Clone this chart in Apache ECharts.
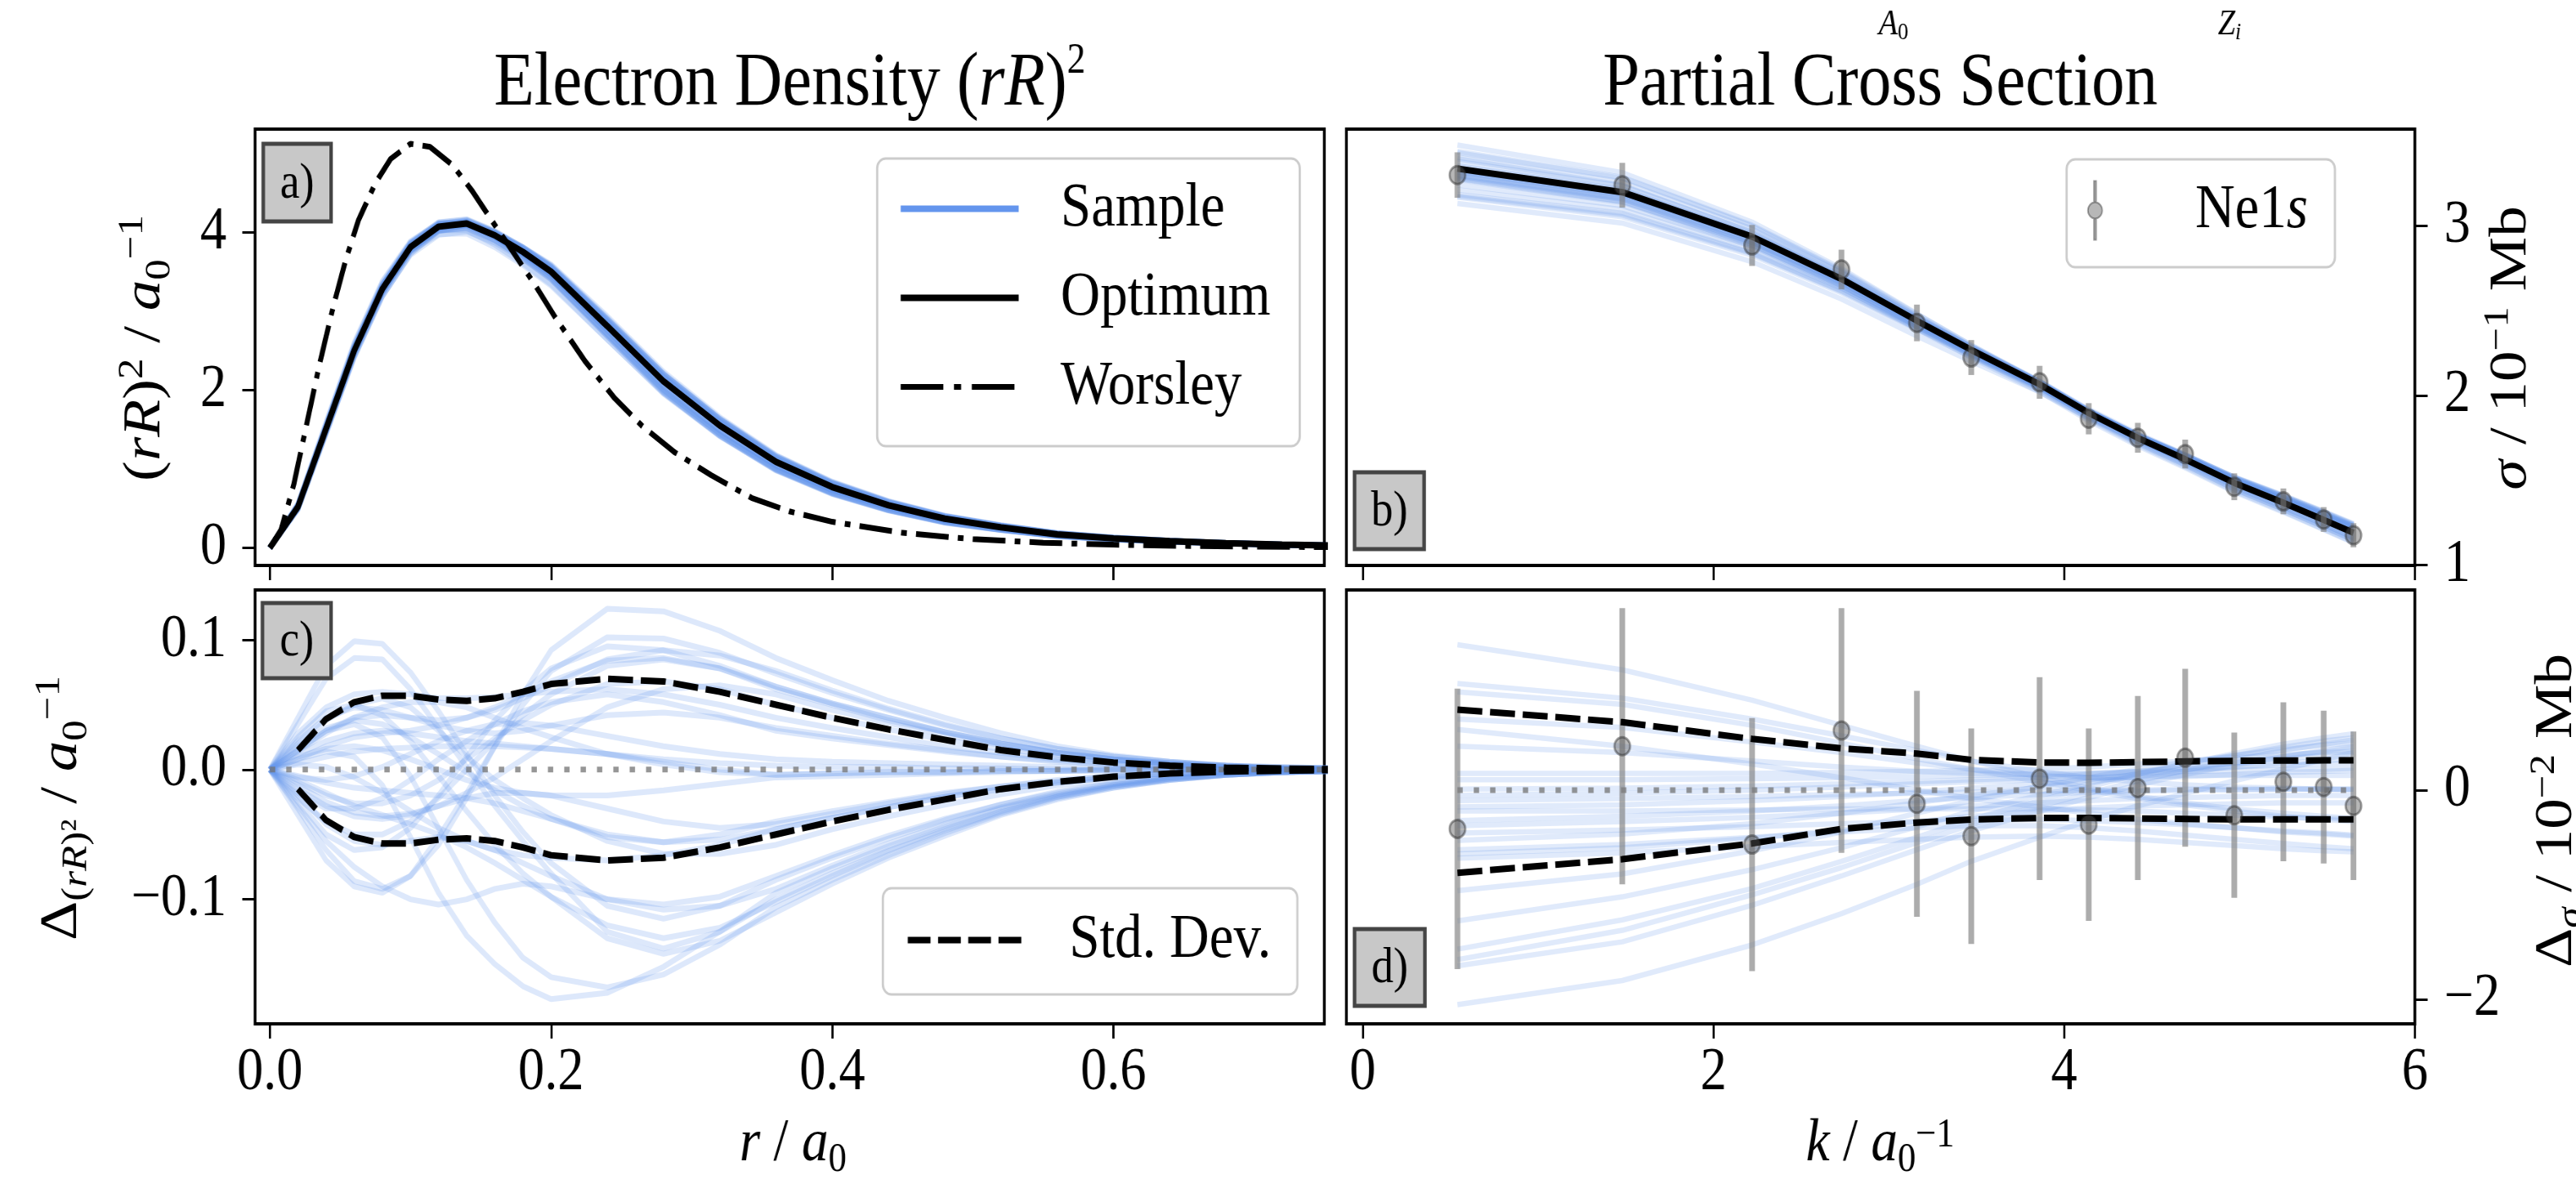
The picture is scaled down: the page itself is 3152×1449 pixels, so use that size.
<!DOCTYPE html>
<html>
<head>
<meta charset="utf-8">
<title>Electron Density and Partial Cross Section</title>
<script src="https://cdn.jsdelivr.net/npm/echarts@6/dist/echarts.min.js"></script>
<style>
html, body { margin:0; padding:0; background:#fff; overflow:hidden; }
#wrap { width:3152px; height:1449px; overflow:hidden; position:relative; }
#chart { height:1449px; transform-origin:0 0; }
</style>
</head>
<body>
<div id="wrap"><div id="chart"></div></div>
<script>
// ------------------------- DATA -------------------------
// radial grid (r / a0) for panels a) and c)
const rGrid = [0, 0.02, 0.04, 0.06, 0.08, 0.10, 0.12, 0.14, 0.16, 0.18, 0.20, 0.24, 0.28, 0.32, 0.36, 0.40, 0.44, 0.48, 0.52, 0.56, 0.60, 0.64, 0.68, 0.72, 0.76];
// optimum electron density (rR)^2
const densityOptimum = [0, 0.52, 1.51, 2.50, 3.28, 3.81, 4.07, 4.11, 3.96, 3.75, 3.50, 2.81, 2.11, 1.55, 1.09, 0.77, 0.54, 0.37, 0.26, 0.17, 0.12, 0.085, 0.06, 0.04, 0.028];
// Worsley reference density
const worsleyR = [0, 0.008, 0.017, 0.026, 0.035, 0.045, 0.054, 0.063, 0.075, 0.086, 0.100, 0.114, 0.130, 0.144, 0.157, 0.173, 0.189, 0.203, 0.224, 0.245, 0.265, 0.288, 0.314, 0.343, 0.370, 0.400, 0.450, 0.500, 0.550, 0.600, 0.650, 0.700, 0.760];
const worsleyValue = [0, 0.23, 0.80, 1.55, 2.30, 3.05, 3.65, 4.15, 4.62, 4.93, 5.12, 5.08, 4.85, 4.52, 4.17, 3.75, 3.32, 2.92, 2.37, 1.90, 1.54, 1.21, 0.92, 0.63, 0.46, 0.33, 0.19, 0.11, 0.065, 0.04, 0.025, 0.015, 0.008];
// standard deviation of density samples (panel c)
const densityStdUpper = [null, 0.015, 0.039, 0.052, 0.057, 0.057, 0.054, 0.053, 0.055, 0.060, 0.066, 0.070, 0.068, 0.060, 0.050, 0.040, 0.031, 0.023, 0.015, 0.0095, 0.0055, 0.003, 0.0015, 0.0008, 0.0003];
const densityStdLower = [null, -0.015, -0.039, -0.052, -0.057, -0.057, -0.054, -0.053, -0.055, -0.060, -0.066, -0.070, -0.068, -0.060, -0.050, -0.040, -0.031, -0.023, -0.015, -0.0095, -0.0055, -0.003, -0.0015, -0.0008, -0.0003];
// sample deviations from optimum density (panel c), one row per sample
const densityDeviations = [
  [0, 0.040, 0.080, 0.099, 0.097, 0.075, 0.045, 0.012, -0.020, -0.048, -0.072, -0.105, -0.115, -0.105, -0.085, -0.068, -0.053, -0.039, -0.027, -0.018, -0.011, -0.006, -0.003, -0.002, -0.001],
  [0, 0.035, 0.070, 0.086, 0.085, 0.062, 0.032, 0.002, -0.028, -0.055, -0.080, -0.125, -0.138, -0.125, -0.100, -0.080, -0.062, -0.046, -0.032, -0.021, -0.013, -0.007, -0.004, -0.002, -0.001],
  [0, 0.008, 0.014, 0.010, -0.012, -0.052, -0.095, -0.128, -0.150, -0.167, -0.177, -0.172, -0.152, -0.125, -0.095, -0.076, -0.059, -0.044, -0.030, -0.020, -0.012, -0.007, -0.004, -0.002, -0.001],
  [0, -0.030, -0.062, -0.086, -0.092, -0.082, -0.058, -0.022, 0.018, 0.058, 0.092, 0.124, 0.122, 0.107, 0.086, 0.069, 0.053, 0.040, 0.028, 0.018, 0.011, 0.006, 0.003, 0.002, 0.001],
  [0, -0.035, -0.070, -0.090, -0.095, -0.082, -0.052, -0.018, 0.018, 0.050, 0.076, 0.102, 0.101, 0.090, 0.074, 0.059, 0.046, 0.034, 0.024, 0.016, 0.010, 0.006, 0.003, 0.001, 0.001],
  [0, 0.028, 0.048, 0.058, 0.060, 0.058, 0.055, 0.055, 0.056, 0.058, 0.060, 0.062, 0.058, 0.050, 0.040, 0.032, 0.025, 0.018, 0.013, 0.008, 0.005, 0.003, 0.002, 0.001, 0],
  [0, 0.020, 0.038, 0.050, 0.055, 0.048, 0.030, 0.010, -0.008, -0.022, -0.035, -0.055, -0.065, -0.065, -0.058, -0.046, -0.036, -0.027, -0.019, -0.012, -0.008, -0.004, -0.002, -0.001, 0],
  [0, 0.015, 0.030, 0.040, 0.042, 0.040, 0.038, 0.040, 0.046, 0.055, 0.065, 0.085, 0.092, 0.088, 0.076, 0.061, 0.047, 0.035, 0.024, 0.016, 0.010, 0.006, 0.003, 0.002, 0.001],
  [0, 0.012, 0.022, 0.028, 0.030, 0.028, 0.025, 0.022, 0.020, 0.018, 0.016, 0.012, 0.008, 0.005, 0.003, 0.002, 0.002, 0.001, 0.001, 0, 0, 0, 0, 0, 0],
  [0, -0.012, -0.025, -0.033, -0.036, -0.034, -0.028, -0.018, -0.006, 0.008, 0.022, 0.048, 0.062, 0.065, 0.058, 0.046, 0.036, 0.027, 0.019, 0.012, 0.008, 0.004, 0.002, 0.001, 0],
  [0, -0.020, -0.042, -0.055, -0.058, -0.055, -0.052, -0.055, -0.062, -0.072, -0.082, -0.100, -0.108, -0.105, -0.092, -0.074, -0.057, -0.042, -0.029, -0.019, -0.012, -0.007, -0.004, -0.002, -0.001],
  [0, -0.025, -0.050, -0.062, -0.060, -0.045, -0.020, 0.010, 0.038, 0.060, 0.078, 0.095, 0.092, 0.080, 0.064, 0.051, 0.040, 0.029, 0.020, 0.013, 0.008, 0.005, 0.003, 0.001, 0.001],
  [0, 0.005, 0.010, 0.014, 0.016, 0.017, 0.018, 0.018, 0.018, 0.017, 0.016, 0.012, 0.006, 0, -0.004, -0.003, -0.002, -0.002, -0.001, -0.001, 0, 0, 0, 0, 0],
  [0, -0.005, -0.010, -0.014, -0.016, -0.018, -0.020, -0.022, -0.026, -0.032, -0.038, -0.050, -0.056, -0.054, -0.046, -0.037, -0.029, -0.021, -0.015, -0.010, -0.006, -0.003, -0.002, -0.001, 0],
  [0, 0.018, 0.032, 0.038, 0.035, 0.025, 0.012, -0.002, -0.016, -0.028, -0.038, -0.052, -0.056, -0.050, -0.040, -0.032, -0.025, -0.018, -0.013, -0.008, -0.005, -0.003, -0.002, -0.001, 0],
  [0, -0.015, -0.028, -0.036, -0.038, -0.035, -0.028, -0.022, -0.018, -0.018, -0.020, -0.030, -0.040, -0.045, -0.042, -0.034, -0.026, -0.019, -0.013, -0.009, -0.005, -0.003, -0.002, -0.001, 0],
  [0, 0.008, 0.018, 0.025, 0.028, 0.030, 0.034, 0.040, 0.048, 0.058, 0.068, 0.084, 0.086, 0.078, 0.064, 0.051, 0.040, 0.029, 0.020, 0.013, 0.008, 0.005, 0.003, 0.001, 0.001],
  [0, -0.008, -0.018, -0.028, -0.035, -0.042, -0.050, -0.060, -0.072, -0.085, -0.098, -0.120, -0.130, -0.122, -0.102, -0.082, -0.063, -0.047, -0.033, -0.021, -0.013, -0.008, -0.004, -0.002, -0.001],
  [0, 0.025, 0.045, 0.050, 0.042, 0.022, -0.005, -0.032, -0.058, -0.080, -0.098, -0.130, -0.142, -0.132, -0.110, -0.088, -0.068, -0.051, -0.035, -0.023, -0.014, -0.008, -0.004, -0.002, -0.001],
  [0, -0.018, -0.030, -0.030, -0.022, -0.008, 0.008, 0.022, 0.035, 0.045, 0.052, 0.058, 0.052, 0.042, 0.030, 0.024, 0.019, 0.014, 0.010, 0.006, 0.004, 0.002, 0.001, 0.001, 0],
  [0, 0.010, 0.016, 0.018, 0.015, 0.008, 0, -0.008, -0.014, -0.018, -0.020, -0.020, -0.016, -0.011, -0.006, -0.005, -0.004, -0.003, -0.002, -0.001, -0.001, 0, 0, 0, 0],
  [0, -0.022, -0.040, -0.050, -0.050, -0.040, -0.022, 0, 0.022, 0.042, 0.058, 0.080, 0.085, 0.078, 0.062, 0.050, 0.038, 0.029, 0.020, 0.013, 0.008, 0.005, 0.002, 0.001, 0.001],
  [0, -0.006, -0.008, -0.005, 0.002, 0.012, 0.022, 0.030, 0.035, 0.036, 0.034, 0.026, 0.018, 0.012, 0.008, 0.006, 0.005, 0.004, 0.003, 0.002, 0.001, 0.001, 0, 0, 0],
  [0, 0.022, 0.040, 0.048, 0.046, 0.040, 0.034, 0.030, 0.028, 0.030, 0.034, 0.042, 0.044, 0.040, 0.032, 0.026, 0.020, 0.015, 0.010, 0.007, 0.004, 0.002, 0.001, 0.001, 0],
  [0, -0.028, -0.055, -0.075, -0.090, -0.100, -0.104, -0.100, -0.092, -0.088, -0.090, -0.100, -0.104, -0.098, -0.082, -0.066, -0.051, -0.038, -0.027, -0.017, -0.011, -0.006, -0.003, -0.002, -0.001],
  [0, 0.004, 0.002, -0.006, -0.018, -0.032, -0.045, -0.055, -0.062, -0.066, -0.068, -0.070, -0.066, -0.058, -0.046, -0.037, -0.029, -0.021, -0.015, -0.010, -0.006, -0.003, -0.002, -0.001, 0],
  [0, 0.014, 0.028, 0.040, 0.048, 0.052, 0.052, 0.048, 0.040, 0.032, 0.025, 0.012, 0.004, -0.002, -0.004, -0.003, -0.002, -0.002, -0.001, -0.001, 0, 0, 0, 0, 0],
  [0, -0.010, -0.020, -0.026, -0.026, -0.020, -0.008, 0.008, 0.024, 0.038, 0.050, 0.066, 0.068, 0.062, 0.050, 0.040, 0.031, 0.023, 0.016, 0.011, 0.007, 0.004, 0.002, 0.001, 0.001],
  [0, 0.015, 0.030, 0.035, 0.025, -0.005, -0.045, -0.085, -0.118, -0.145, -0.160, -0.168, -0.158, -0.135, -0.106, -0.085, -0.066, -0.049, -0.034, -0.022, -0.014, -0.008, -0.004, -0.002, -0.001]
];

// photo-electron momentum k / a0^-1 (panels b and d)
const kValues = [0.54, 1.48, 2.22, 2.73, 3.16, 3.47, 3.86, 4.14, 4.42, 4.69, 4.97, 5.25, 5.48, 5.65];
// Ne 1s partial cross section, 10^-1 Mb
const sigmaData = [3.300, 3.240, 2.885, 2.743, 2.428, 2.224, 2.078, 1.863, 1.751, 1.655, 1.462, 1.376, 1.269, 1.176];
const sigmaErr = [0.134, 0.132, 0.121, 0.117, 0.108, 0.103, 0.097, 0.092, 0.088, 0.085, 0.079, 0.076, 0.073, 0.071];
const sigmaOptimum = [3.338, 3.199, 2.937, 2.687, 2.441, 2.269, 2.066, 1.897, 1.750, 1.624, 1.485, 1.368, 1.267, 1.191];
// deviations from optimum, 10^-2 Mb
const sigmaDeltaData = [-0.37, 0.42, -0.52, 0.57, -0.13, -0.44, 0.11, -0.33, 0.02, 0.31, -0.24, 0.08, 0.03, -0.15];
const sigmaDeltaErr = [1.34, 1.32, 1.21, 1.17, 1.08, 1.03, 0.97, 0.92, 0.88, 0.85, 0.79, 0.76, 0.73, 0.71];
const sigmaStdUpper = [0.77, 0.65, 0.49, 0.40, 0.35, 0.29, 0.265, 0.262, 0.268, 0.275, 0.28, 0.283, 0.285, 0.285];
const sigmaStdLower = [-0.79, -0.66, -0.51, -0.37, -0.31, -0.28, -0.266, -0.266, -0.27, -0.275, -0.28, -0.28, -0.28, -0.28];
// sample deviations of the cross section (10^-2 Mb), one row per sample
const sigmaDeviations = [
  [1.39, 1.15, 0.86, 0.62, 0.42, 0.28, 0.12, 0.02, -0.06, -0.12, -0.18, -0.22, -0.25, -0.27],
  [1.02, 0.88, 0.68, 0.52, 0.38, 0.28, 0.18, 0.12, 0.08, 0.05, 0.03, 0.02, 0.01, 0.00],
  [0.94, 0.82, 0.62, 0.45, 0.30, 0.20, 0.08, 0.00, -0.08, -0.14, -0.20, -0.25, -0.28, -0.30],
  [0.68, 0.60, 0.46, 0.36, 0.26, 0.20, 0.14, 0.12, 0.12, 0.13, 0.15, 0.17, 0.18, 0.19],
  [0.58, 0.42, 0.25, 0.12, 0.00, -0.08, -0.16, -0.22, -0.28, -0.32, -0.36, -0.40, -0.42, -0.44],
  [0.42, 0.36, 0.28, 0.22, 0.18, 0.16, 0.15, 0.16, 0.18, 0.20, 0.22, 0.24, 0.25, 0.26],
  [0.16, 0.16, 0.16, 0.17, 0.18, 0.19, 0.20, 0.22, 0.25, 0.28, 0.31, 0.34, 0.36, 0.37],
  [0.10, 0.10, 0.11, 0.12, 0.13, 0.14, 0.15, 0.16, 0.17, 0.18, 0.19, 0.20, 0.20, 0.21],
  [0.01, 0.02, 0.04, 0.06, 0.08, 0.10, 0.12, 0.15, 0.18, 0.22, 0.26, 0.30, 0.33, 0.35],
  [-0.05, -0.03, 0.00, 0.03, 0.06, 0.08, 0.10, 0.12, 0.13, 0.14, 0.14, 0.14, 0.14, 0.14],
  [-0.10, -0.08, -0.06, -0.04, -0.03, -0.02, -0.01, 0.00, 0.00, 0.01, 0.01, 0.01, 0.01, 0.01],
  [-0.16, -0.14, -0.10, -0.06, -0.02, 0.02, 0.06, 0.10, 0.15, 0.20, 0.26, 0.32, 0.37, 0.40],
  [-0.20, -0.20, -0.19, -0.18, -0.18, -0.18, -0.18, -0.19, -0.20, -0.22, -0.24, -0.26, -0.27, -0.28],
  [-0.29, -0.25, -0.20, -0.15, -0.10, -0.07, -0.04, -0.02, -0.01, 0.00, 0.00, 0.01, 0.01, 0.01],
  [-0.34, -0.30, -0.26, -0.22, -0.18, -0.15, -0.12, -0.10, -0.08, -0.07, -0.06, -0.05, -0.05, -0.05],
  [-0.41, -0.38, -0.35, -0.32, -0.30, -0.29, -0.28, -0.29, -0.31, -0.33, -0.36, -0.39, -0.41, -0.43],
  [-0.48, -0.42, -0.32, -0.22, -0.12, -0.05, 0.03, 0.08, 0.13, 0.18, 0.22, 0.26, 0.28, 0.30],
  [-0.57, -0.52, -0.45, -0.40, -0.36, -0.34, -0.34, -0.36, -0.39, -0.43, -0.47, -0.51, -0.54, -0.56],
  [-0.61, -0.55, -0.46, -0.38, -0.30, -0.25, -0.20, -0.17, -0.15, -0.14, -0.13, -0.12, -0.12, -0.12],
  [-0.65, -0.60, -0.54, -0.50, -0.47, -0.45, -0.44, -0.45, -0.47, -0.50, -0.53, -0.56, -0.58, -0.59],
  [-0.96, -0.80, -0.58, -0.40, -0.22, -0.10, 0.04, 0.12, 0.20, 0.27, 0.33, 0.39, 0.43, 0.45],
  [-1.25, -1.02, -0.76, -0.55, -0.35, -0.20, -0.05, 0.06, 0.16, 0.25, 0.33, 0.41, 0.47, 0.50],
  [-1.52, -1.24, -0.94, -0.68, -0.45, -0.28, -0.10, 0.03, 0.15, 0.25, 0.35, 0.44, 0.50, 0.54],
  [-1.62, -1.34, -1.00, -0.74, -0.50, -0.33, -0.15, -0.03, 0.09, 0.19, 0.29, 0.38, 0.44, 0.48],
  [-1.68, -1.45, -1.10, -0.82, -0.57, -0.39, -0.20, -0.07, 0.05, 0.15, 0.24, 0.32, 0.38, 0.42],
  [-2.05, -1.82, -1.48, -1.18, -0.90, -0.68, -0.45, -0.29, -0.15, -0.03, 0.09, 0.20, 0.29, 0.36]
];

// tick values
const rTicks = [0, 0.2, 0.4, 0.6];
const kTicks = [0, 2, 4, 6];
const densityTicks = [0, 2, 4];
const sigmaTicks = [1, 2, 3];
const densityDeltaTicks = [-0.1, 0, 0.1];
const sigmaDeltaTicks = [-2, 0];

// ------------------------- LAYOUT / STYLE -------------------------
const SX = 0.87;                 // horizontal condensation of the whole figure
const px = x => x / SX;          // reference x -> pre-scale x
const W = 3152 / SX;
const el = document.getElementById('chart');
el.style.width = W + 'px';
el.style.transform = 'scaleX(' + SX + ')';

const F = "'Liberation Serif','Times New Roman',serif";
const BLUE = '#6495ED';
const TICK_FS = 74;
const minus = s => String(s).replace('-', '\u2212');

const GL1 = px(312), GR1 = px(1620), GL2 = px(1647), GR2 = px(2954);
const gridBase = { show: true, borderColor: '#000', borderWidth: 4, backgroundColor: 'rgba(0,0,0,0)', containLabel: false, outerBoundsMode: 'none' };
const grids = [
  Object.assign({ left: GL1, top: 158, width: GR1 - GL1, height: 534 }, gridBase),
  Object.assign({ left: GL2, top: 158, width: GR2 - GL2, height: 534 }, gridBase),
  Object.assign({ left: GL1, top: 722, width: GR1 - GL1, height: 531 }, gridBase),
  Object.assign({ left: GL2, top: 722, width: GR2 - GL2, height: 531 }, gridBase)
];

function axis(kind, gridIndex, min, max, ticks, showLabels, fmt, extra) {
  const a = {
    type: 'value', gridIndex, min, max,
    axisLine: { show: false, onZero: false },
    splitLine: { show: false },
    axisTick: { show: true, inside: false, length: 18, lineStyle: { color: '#000', width: 3 }, customValues: ticks },
    axisLabel: {
      show: showLabels, customValues: ticks, formatter: fmt,
      fontSize: TICK_FS, fontFamily: F, color: '#000',
      margin: kind === 'x' ? 24 : 40
    }
  };
  return Object.assign(a, extra || {});
}
const fmtR = v => v.toFixed(1);
const fmtInt = v => minus(String(Math.round(v)));
const fmtD = v => minus(v.toFixed(1));

const xAxes = [
  axis('x', 0, -0.0105, 0.75, rTicks, false, fmtR),
  axis('x', 1, -0.0932, 6, kTicks, false, fmtInt),
  axis('x', 2, -0.0105, 0.75, rTicks, true, fmtR),
  axis('x', 3, -0.0932, 6, kTicks, true, fmtInt)
];
const yAxes = [
  axis('y', 0, -0.223, 5.306, densityTicks, true, fmtInt, { position: 'left' }),
  axis('y', 1, 0.998, 3.571, sigmaTicks, true, fmtInt, { position: 'right' }),
  axis('y', 2, -0.196, 0.1385, densityDeltaTicks, true, fmtD, { position: 'left' }),
  axis('y', 3, -2.234, 1.914, sigmaDeltaTicks, true, fmtInt, { position: 'right' })
];
yAxes[1].axisLabel.margin = 41;
yAxes[3].axisLabel.margin = 41;

function line(idx, data, lineStyle, z, name) {
  const s = { type: 'line', xAxisIndex: idx, yAxisIndex: idx, data, showSymbol: false, symbol: 'none',
    lineStyle, z, silent: true, animation: false, emphasis: { disabled: true }, clip: true };
  if (name) s.name = name;
  return s;
}
function errorBars(idx, data, z) {
  return {
    type: 'custom', xAxisIndex: idx, yAxisIndex: idx, z, silent: true, animation: false,
    data, encode: { x: 0, y: 1 },
    renderItem: function (params, api) {
      const x = api.value(0), y = api.value(1), e = api.value(2);
      const p1 = api.coord([x, y - e]), p2 = api.coord([x, y + e]);
      return { type: 'line', shape: { x1: p1[0], y1: p1[1], x2: p2[0], y2: p2[1] },
        style: { stroke: 'rgba(128,128,128,0.65)', lineWidth: 8 } };
    }
  };
}
function points(idx, data, z, name) {
  return { type: 'scatter', name, xAxisIndex: idx, yAxisIndex: idx, data, symbol: 'circle', symbolSize: 22,
    itemStyle: { color: 'rgba(90,90,90,0.55)', borderColor: 'rgba(40,40,40,0.55)', borderWidth: 3 },
    z, silent: true, animation: false };
}

const sampleStyle = { color: BLUE, width: 7, opacity: 0.22 };
const sampleStyleD = { color: BLUE, width: 6.5, opacity: 0.2 };
const dashStyle = { color: '#000', width: 8, type: [35, 11] };
const dotStyle = { color: 'rgba(115,115,115,0.75)', width: 7, type: [7.5, 15.5] };

const series = [];
// panel a
densityDeviations.forEach(dev => series.push(line(0, rGrid.map((r, j) => [r, densityOptimum[j] + dev[j]]), sampleStyle, 2, 'Sample')));
series.push(line(0, rGrid.map((r, j) => [r, densityOptimum[j]]), { color: '#000', width: 8 }, 4, 'Optimum'));
series.push(line(0, worsleyR.map((r, j) => [r, worsleyValue[j]]), { color: '#000', width: 7, type: [46, 13, 8, 13] }, 5, 'Worsley'));
// panel c
densityDeviations.forEach(dev => series.push(line(2, rGrid.map((r, j) => [r, dev[j]]), sampleStyle, 2)));
series.push(line(2, [[rGrid[0], 0], [rGrid[rGrid.length - 1], 0]], dotStyle, 3));
series.push(line(2, rGrid.map((r, j) => [r, densityStdUpper[j]]).filter(p => p[1] !== null), dashStyle, 5, 'Std. Dev.'));
series.push(line(2, rGrid.map((r, j) => [r, densityStdLower[j]]).filter(p => p[1] !== null), dashStyle, 5, 'Std. Dev.'));
// panel b
sigmaDeviations.forEach(dev => series.push(line(1, kValues.map((k, j) => [k, sigmaOptimum[j] + dev[j] / 10]), sampleStyleD, 2)));
series.push(line(1, kValues.map((k, j) => [k, sigmaOptimum[j]]), { color: '#000', width: 8 }, 4, 'Optimum \u03c3'));
series.push(errorBars(1, kValues.map((k, j) => [k, sigmaData[j], sigmaErr[j]]), 5));
series.push(points(1, kValues.map((k, j) => [k, sigmaData[j]]), 6, 'Ne1s'));
// panel d
sigmaDeviations.forEach(dev => series.push(line(3, kValues.map((k, j) => [k, dev[j]]), sampleStyleD, 2)));
series.push(line(3, [[kValues[0], 0], [kValues[kValues.length - 1], 0]], dotStyle, 3));
series.push(errorBars(3, kValues.map((k, j) => [k, sigmaDeltaData[j], sigmaDeltaErr[j]]), 4));
series.push(line(3, kValues.map((k, j) => [k, sigmaStdUpper[j]]), dashStyle, 5, 'Std. Dev. \u03c3'));
series.push(line(3, kValues.map((k, j) => [k, sigmaStdLower[j]]), dashStyle, 5, 'Std. Dev. \u03c3'));
series.push(points(3, kValues.map((k, j) => [k, sigmaDeltaData[j]]), 6, 'Ne1s \u0394'));

// legends
const legendText = (gap) => ({ fontFamily: F, fontSize: 77, color: '#000', lineHeight: 77,
  rich: { g: { width: gap, fontSize: 77, fontFamily: F }, it: { fontSize: 77, fontFamily: F, fontStyle: 'italic' } } });
const legendBase = {
  orient: 'vertical', selectedMode: false, backgroundColor: 'rgba(255,255,255,0.8)',
  borderColor: '#cccccc', borderWidth: 3, borderRadius: 12
};
const hidden = { opacity: 0 };
const legends = [
  Object.assign({}, legendBase, {
    data: [
      { name: 'Sample', itemStyle: hidden, lineStyle: { color: BLUE, width: 8, opacity: 1, type: 'solid' } },
      { name: 'Optimum', itemStyle: hidden, lineStyle: { color: '#000', width: 8, opacity: 1, type: 'solid' } },
      { name: 'Worsley', itemStyle: hidden, lineStyle: { color: '#000', width: 7, opacity: 1, type: [60, 15, 10, 15] } }
    ],
    itemStyle: hidden, lineStyle: { width: 8 },
    left: px(1073), top: 194, padding: [23, 41, 34, 29], itemGap: 32, itemWidth: 166, itemHeight: 30,
    textStyle: legendText(54),
    formatter: n => '{g| }' + n
  }),
  Object.assign({}, legendBase, {
    data: [{ name: 'Std. Dev.', itemStyle: hidden, lineStyle: { color: '#000', width: 8, opacity: 1, type: [32, 10.5] } }],
    itemStyle: hidden, lineStyle: { width: 8 },
    left: px(1080), top: 1087, padding: [25, 37, 28, 31], itemGap: 10, itemWidth: 160, itemHeight: 30,
    textStyle: legendText(62),
    formatter: n => '{g| }' + n
  }),
  Object.assign({}, legendBase, {
    data: [{ name: 'Ne1s', icon: 'path://M9.5,0H12.5V26H9.5Z M9.5,46H12.5V72H9.5Z M1,36A10,10 0 0,1 21,36A10,10 0 0,1 1,36Z' }],
    left: px(2528), top: 195, padding: [24, 38, 31, 29], itemGap: 10, itemWidth: 166, itemHeight: 72,
    textStyle: legendText(53),
    formatter: () => '{g| }Ne1{it|s}'
  })
];

// text helpers
function rs(size, extra) { return Object.assign({ fontSize: size, fontFamily: F }, extra || {}); }
function label(x, y, text, size, lh, rich, rot, align) {
  const t = { type: 'text', x, y, z: 100, silent: true,
    style: { text, fill: '#000', fontSize: size, fontFamily: F, lineHeight: lh, align: align || 'center', verticalAlign: 'middle', rich } };
  if (rot) t.rotation = rot;
  return t;
}
const mathRich = (size, lh, supH, subH) => ({
  i: rs(size, { fontStyle: 'italic', lineHeight: lh }),
  sup: rs(Math.round(size * 0.68), { verticalAlign: 'top', height: supH }),
  sub: rs(Math.round(size * 0.68), { verticalAlign: 'bottom', height: subH }),
  subi: rs(Math.round(size * 0.68), { verticalAlign: 'bottom', height: subH, fontStyle: 'italic' })
});
function panelTag(x1, y1, x2, y2, txt) {
  return [
    { type: 'rect', z: 100, silent: true, shape: { x: px(x1), y: y1, width: px(x2) - px(x1), height: y2 - y1 },
      style: { fill: '#c8c8c8', stroke: '#454545', lineWidth: 5 } },
    { type: 'text', z: 101, silent: true, x: px((x1 + x2) / 2), y: (y1 + y2) / 2 + 2,
      style: { text: txt, fill: '#000', fontSize: 62, fontFamily: F, align: 'center', verticalAlign: 'middle' } }
  ];
}

const graphics = [
  label(px(966), 104, 'Electron Density ({i|rR}){sup|2}', 93, 106, { i: rs(93, { fontStyle: 'italic', lineHeight: 106 }), sup: rs(52, { verticalAlign: 'top', height: 48 }) }),
  label(px(2300), 104, 'Partial Cross Section', 93, 106, {}),
  label(px(2298), 30, '{i|A}{sub|0}', 44, 50, { i: rs(44, { fontStyle: 'italic' }), sub: rs(30, { verticalAlign: 'bottom', height: 30 }) }, 0, 'left'),
  label(px(2713), 30, '{i|Z}{subi|i}', 44, 50, { i: rs(44, { fontStyle: 'italic' }), subi: rs(30, { verticalAlign: 'bottom', height: 30, fontStyle: 'italic' }) }, 0, 'left'),
  label(px(970), 1400, '{i|r} / {i|a}{sub|0}', 75, 90, mathRich(75, 90, 60, 50)),
  label(px(2300), 1400, '{i|k} / {i|a}{sub|0}{sup|\u22121}', 75, 90, mathRich(75, 90, 70, 50)),
  label(px(178), 426, '({i|rR}){sup|2} / {i|a}{sub|0}{sup|\u22121}', 75, 96, mathRich(75, 96, 60, 56), Math.PI / 2),
  label(px(76), 989, '\u0394{sub|(}{subi|rR}{sub|)\u00b2} / {i|a}{sub|0}{sup|\u22121}', 75, 96, mathRich(75, 96, 60, 56), Math.PI / 2),
  label(px(3072), 426, '{i|\u03c3} / 10{sup|\u22121} Mb', 75, 96, mathRich(75, 96, 60, 56), Math.PI / 2),
  label(px(3128), 992, '\u0394{subi|\u03c3} / 10{sup|\u22122} Mb', 75, 96, mathRich(75, 96, 60, 56), Math.PI / 2)
].concat(
  panelTag(322, 176, 405, 271, 'a)'),
  panelTag(1657, 578, 1742, 672, 'b)'),
  panelTag(321, 738, 405, 830, 'c)'),
  panelTag(1657, 1137, 1743, 1231, 'd)')
);

const chart = echarts.init(el, null, { renderer: 'canvas', width: W, height: 1449 });
chart.setOption({
  animation: false,
  backgroundColor: '#ffffff',
  textStyle: { fontFamily: F },
  grid: grids,
  xAxis: xAxes,
  yAxis: yAxes,
  legend: legends,
  series,
  graphic: graphics
});
</script>
</body>
</html>
